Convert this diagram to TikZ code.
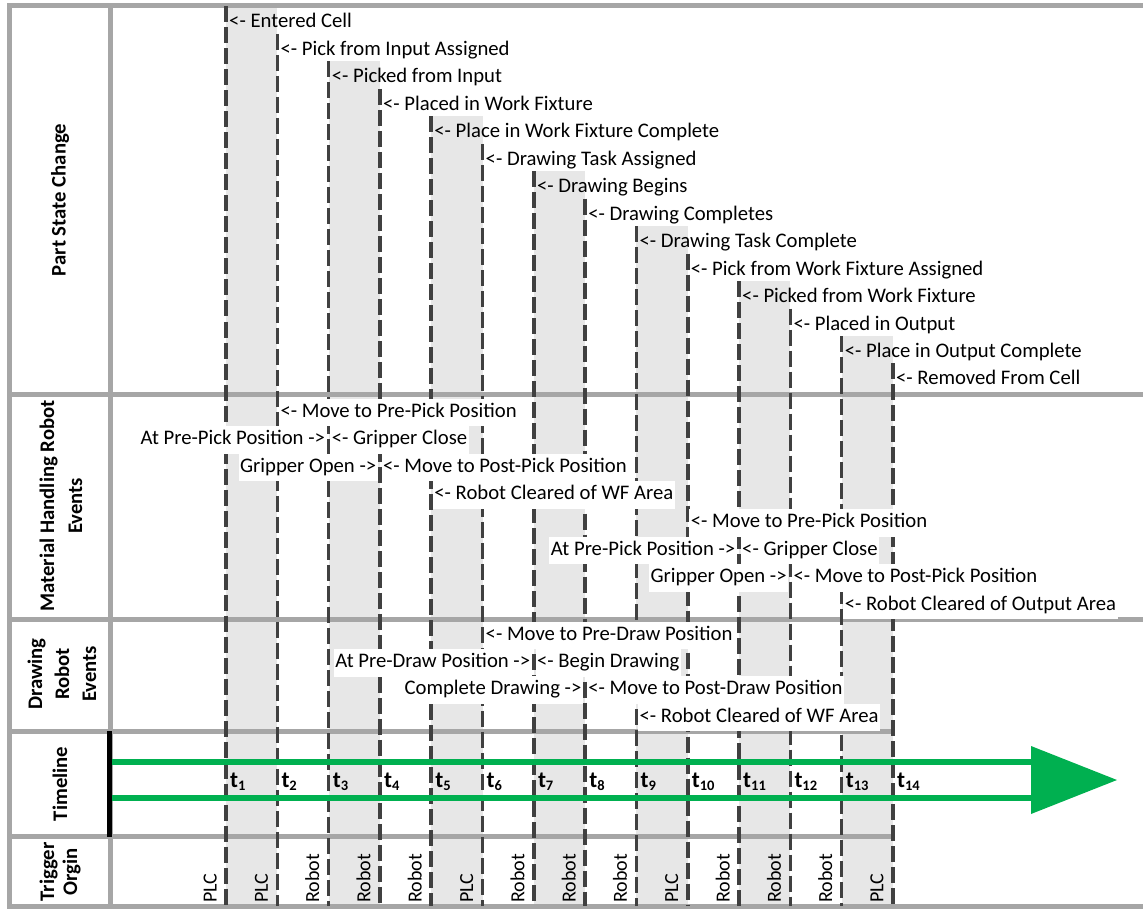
\documentclass[tikz,border=0pt]{standalone}
\usepackage{fontspec}
\setmainfont{Carlito}
\definecolor{framegray}{HTML}{A6A6A6}
\definecolor{bandgray}{HTML}{E7E7E7}
\definecolor{dashgray}{HTML}{404040}
\definecolor{tlgreen}{HTML}{00B050}
\begin{document}
\begin{tikzpicture}[x=1pt,y=-1pt,
  frameline/.style={draw=framegray,line width=5pt},
  bandfill/.style={fill=bandgray},
  tickline/.style={draw=dashgray,line width=3.6pt,dash pattern=on 16pt off 5pt},
  ps/.style={font=\fontsize{20.7}{24}\selectfont,inner xsep=1.5pt,inner ysep=4pt,text height=14.5pt,text depth=5pt,anchor=base west},
  ev/.style={font=\fontsize{20.7}{24}\selectfont,fill=white,inner xsep=1.5pt,inner ysep=4pt,text height=14.5pt,text depth=5pt},
  evR/.style={ev,anchor=base west},
  evL/.style={ev,anchor=base east},
  rowlab/.style={font=\bfseries\fontsize{20.7}{27}\selectfont,rotate=90,align=center,inner sep=0pt},
  trig/.style={font=\fontsize{20}{24}\selectfont,rotate=90,anchor=base west,inner sep=0pt},
  tlab/.style={font=\bfseries\fontsize{23}{24}\selectfont,anchor=base west,inner sep=0pt},
  tlline/.style={draw=tlgreen,line width=6pt}
]
\useasboundingbox (0,0) rectangle (1143,909);

% shaded bands
\foreach \a/\b/\tp in {226/277.3/6.5, 328.6/379.9/61.42, 431.2/482.5/116.34, 533.8/585.1/171.26, 636.4/687.7/226.18, 739/790.3/281.1, 841.6/892.9/336.02}
  \fill[bandfill] (\a,\tp) rectangle (\b,906);

% frame
\draw[frameline] (7,6) -- (1143,6);
\draw[frameline] (9.5,4) -- (9.5,909);
\draw[frameline] (7,906.5) -- (1143,906.5);
\draw[frameline] (110,6) -- (110,906);
\draw[frameline] (7,394) -- (1143,394);
\draw[frameline] (7,619) -- (1143,619);
\draw[frameline] (7,731.5) -- (895,731.5);
\draw[frameline] (7,836.5) -- (895,836.5);
\draw[line width=5pt] (109,731) -- (109,837);

% dashed time lines
\foreach \k/\x/\tp in {1/226/6.5, 2/277.3/33.96, 3/328.6/61.42, 4/379.9/88.88, 5/431.2/116.34, 6/482.5/143.8, 7/533.8/171.26, 8/585.1/198.72, 9/636.4/226.18, 10/687.7/253.64, 11/739/281.1, 12/790.3/308.56, 13/841.6/336.02, 14/892.9/363.48}{
  \coordinate (top\k) at (\x,\tp);
  \coordinate (bot\k) at (\x,906);
  \draw[tickline] (top\k) -- (bot\k);
}

% part state changes
\node[ps] (ps1) at (227.5,28) {<- Entered Cell};
\node[ps] (ps2) at (278.8,55.46) {<- Pick from Input Assigned};
\node[ps] (ps3) at (330.1,82.92) {<- Picked from Input};
\node[ps] (ps4) at (381.4,110.38) {<- Placed in Work Fixture};
\node[ps] (ps5) at (432.7,137.84) {<- Place in Work Fixture Complete};
\node[ps] (ps6) at (484,165.3) {<- Drawing Task Assigned};
\node[ps] (ps7) at (535.3,192.76) {<- Drawing Begins};
\node[ps] (ps8) at (586.6,220.22) {<- Drawing Completes};
\node[ps] (ps9) at (637.9,247.68) {<- Drawing Task Complete};
\node[ps] (ps10) at (689.2,275.14) {<- Pick from Work Fixture Assigned};
\node[ps] (ps11) at (740.5,302.6) {<- Picked from Work Fixture};
\node[ps] (ps12) at (791.8,330.06) {<- Placed in Output};
\node[ps] (ps13) at (843.1,357.52) {<- Place in Output Complete};
\node[ps] (ps14) at (894.4,384.98) {<- Removed From Cell};

% material handling robot events
\node[evR] (mh1) at (278.8,417.3) {<- Move to Pre-Pick Position};
\node[evL] (mh2) at (326.6,444.85) {At Pre-Pick Position ->};
\node[evR] (mh3) at (330.1,444.85) {<- Gripper Close};
\node[evL] (mh4) at (377.9,472.4) {Gripper Open ->};
\node[evR] (mh5) at (381.4,472.4) {<- Move to Post-Pick Position};
\node[evR] (mh6) at (432.7,499.95) {<- Robot Cleared of WF Area};
\node[evR] (mh7) at (689.2,527.5) {<- Move to Pre-Pick Position};
\node[evL] (mh8) at (737,555.05) {At Pre-Pick Position ->};
\node[evR] (mh9) at (740.5,555.05) {<- Gripper Close};
\node[evL] (mh10) at (788.3,582.6) {Gripper Open ->};
\node[evR] (mh11) at (791.8,582.6) {<- Move to Post-Pick Position};
\node[evR] (mh12) at (843.1,610.15) {<- Robot Cleared of Output Area};

% drawing robot events
\node[evR] (dr1) at (484,640.3) {<- Move to Pre-Draw Position};
\node[evL] (dr2) at (531.8,667.6) {At Pre-Draw Position ->};
\node[evR] (dr3) at (535.3,667.6) {<- Begin Drawing};
\node[evL] (dr4) at (583.1,694.9) {Complete Drawing ->};
\node[evR] (dr5) at (586.6,694.9) {<- Move to Post-Draw Position};
\node[evR] (dr6) at (637.9,722.2) {<- Robot Cleared of WF Area};

% timeline arrow
\coordinate (ga1) at (112,762);
\coordinate (ga2) at (1032,762);
\coordinate (gb1) at (112,798);
\coordinate (gb2) at (1032,798);
\draw[tlline] (ga1) -- (ga2);
\draw[tlline] (gb1) -- (gb2);
\coordinate (tri1) at (1031,746);
\coordinate (tri2) at (1117,780);
\coordinate (tri3) at (1031,814);
\fill[tlgreen] (tri1) -- (tri2) -- (tri3) -- cycle;

% time labels and trigger origins
\foreach \k/\x/\src in {1/226/PLC, 2/277.3/PLC, 3/328.6/Robot, 4/379.9/Robot, 5/431.2/Robot, 6/482.5/PLC, 7/533.8/Robot, 8/585.1/Robot, 9/636.4/Robot, 10/687.7/PLC, 11/739/Robot, 12/790.3/Robot, 13/841.6/Robot, 14/892.9/PLC}{
  \node[tlab] (tl\k) at (\x+4,787) {t\raisebox{-3.5pt}{\fontsize{14.5}{15}\selectfont\k}};
  \node[trig] (tr\k) at (\x-9.5,903) {\src};
}

% row labels
\node[rowlab] (rl1) at (60,200) {Part State Change};
\node[rowlab,font=\bfseries\fontsize{20.7}{28}\selectfont] (rl2) at (61,506) {Material Handling Robot\\Events};
\node[rowlab] (rl3) at (62,674) {Drawing\\Robot\\Events};
\node[rowlab] (rl4) at (60,784) {Timeline};
\node[rowlab,font=\bfseries\fontsize{20.7}{23}\selectfont] (rl5) at (60,872) {Trigger\\Orgin};
\end{tikzpicture}
\end{document}
